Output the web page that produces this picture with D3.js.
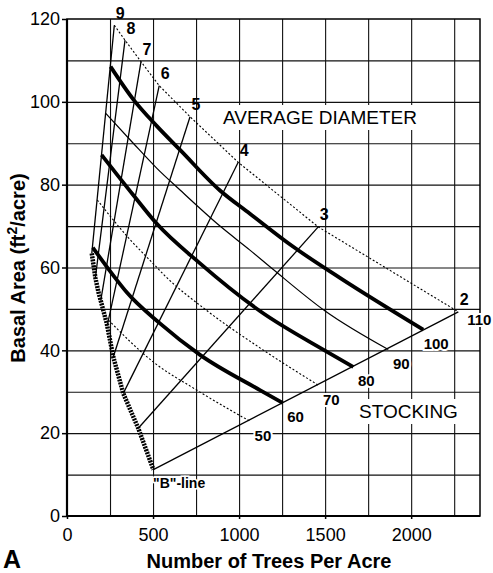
<!DOCTYPE html>
<html>
<head>
<meta charset="utf-8">
<script src="https://cdn.jsdelivr.net/npm/d3@7"></script>
<style>
  body { margin: 0; background: #fff; }
  svg { display: block; font-family: "Liberation Sans", Arial, sans-serif; }
  .grid line { stroke: #111; stroke-width: 1.1; }
  .grid .domain { display: none; }
</style>
</head>
<body>
<div id="container"></div>
<script>
// axis ticks
const xTicks = [0, 500, 1000, 1500, 2000];
const yTicks = [0, 20, 40, 60, 80, 100, 120];
const gridTpa = [250, 500, 750, 1000, 1250, 1500, 1750, 2000, 2250];
const gridBa = [10, 20, 30, 40, 50, 60, 70, 80, 90, 100, 110];

// average diameter lines (inches), from the B-line up to the 110% line
const diameters = [9, 8, 7, 6, 5, 4, 3, 2];
const diamLowTpa = [144, 165, 196, 234, 269, 327, 414, 502];
const diamLowBa = [63.4, 57.5, 52, 46, 38.4, 29.6, 21.2, 11.2];
const diamHighTpa = [275, 337, 430, 536, 715, 995, 1460, 2274];
const diamHighBa = [118.5, 114.9, 109.7, 103.9, 96.4, 85.4, 69.8, 49.3];

// "B"-line
const bLine = [[144, 63.4], [165, 57.5], [183, 54], [196, 52], [231, 46.5], [269, 38.4], [327, 29.6], [414, 21.2], [502, 11.2]];

// stocking curves (% stocking), points as [trees per acre, basal area]
const stockLevels = [110, 100, 90, 80, 70, 60, 50];
const stock110 = [[275, 118.5], [337, 114.9], [430, 109.7], [536, 103.9], [715, 96.4], [995, 85.4], [1460, 69.8], [2274, 49.3]];
const stock100 = [[253, 108.5], [385, 100.6], [521, 94.2], [657, 88.4], [889, 78.6], [1063, 73], [1315, 65], [1586, 57.5], [2070, 45]];
const stock90 = [[226, 97.2], [385, 90], [521, 84], [657, 78.7], [889, 70], [1063, 64.2], [1199, 59.5], [1500, 49.5], [1867, 40.2]];
const stock80 = [[201, 87.2], [385, 77.5], [521, 70.6], [773, 61], [1121, 49.5], [1509, 39.7], [1664, 36]];
const stock70 = [[176, 76.3], [350, 67.5], [511, 60.5], [569, 58], [800, 50], [1121, 40.6], [1460, 31.6]];
const stock60 = [[150, 64.8], [289, 57], [347, 54], [540, 46.5], [773, 38.9], [1121, 30.4], [1253, 27.3]];
const stock50 = [[241, 47.3], [501, 37.2], [754, 30.4], [1024, 23.8], [1063, 22.9]];
const stockCurves = [stock110, stock100, stock90, stock80, stock70, stock60, stock50];

const width = 493;
const height = 573;
const font = '"Liberation Sans", Arial, sans-serif';

const svg = d3.select('#container').append('svg')
  .attr('width', width)
  .attr('height', height);

const x = d3.scaleLinear().domain([0, 2400]).range([67, 480]);
const y = d3.scaleLinear().domain([0, 120]).range([516, 19]);

// grid
svg.append('g')
  .attr('class', 'grid')
  .attr('transform', `translate(0,${y(0)})`)
  .call(d3.axisBottom(x).tickValues(gridTpa).tickSize(-(y(0) - y(120))).tickFormat(''));

svg.append('g')
  .attr('class', 'grid')
  .attr('transform', `translate(${x(0)},0)`)
  .call(d3.axisLeft(y).tickValues(gridBa).tickSize(-(x(2400) - x(0))).tickFormat(''));

// frame
svg.append('rect')
  .attr('x', x(0)).attr('y', y(120))
  .attr('width', x(2400) - x(0)).attr('height', y(0) - y(120))
  .attr('fill', 'none').attr('stroke', '#000').attr('stroke-width', 1.5);
svg.append('path')
  .attr('d', `M${x(0)},${y(120)}V${y(0)}H${x(2400)}`)
  .attr('fill', 'none').attr('stroke', '#000').attr('stroke-width', 2.2);

// axes
const yAxis = svg.append('g')
  .attr('transform', `translate(${x(0)},0)`)
  .call(d3.axisLeft(y).tickValues(yTicks).tickSize(5).tickPadding(2).tickFormat(d3.format('d')))
  .attr('font-size', 18).attr('font-family', font);
yAxis.select('.domain').remove();
yAxis.selectAll('line').attr('stroke-width', 1.5);

const xAxis = svg.append('g')
  .attr('transform', `translate(0,${y(0)})`)
  .call(d3.axisBottom(x).tickValues(xTicks).tickSize(3).tickPadding(9).tickFormat(d3.format('d')))
  .attr('font-size', 18).attr('font-family', font);
xAxis.select('.domain').remove();
xAxis.selectAll('line').attr('stroke-width', 1.5);

// stocking curves
const line = d3.line()
  .x((d) => x(d[0]))
  .y((d) => y(d[1]))
  .curve(d3.curveMonotoneX);
const straight = d3.line()
  .x((d) => x(d[0]))
  .y((d) => y(d[1]));

stockLevels.forEach((s, i) => {
  const dotted = s === 110 || s === 70 || s === 50;
  const thick = s === 100 || s === 80 || s === 60;
  svg.append('path')
    .attr('d', s === 110 ? straight(stockCurves[i]) : line(stockCurves[i]))
    .attr('fill', 'none')
    .attr('stroke', '#000')
    .attr('stroke-width', thick ? 3.8 : dotted ? 1.1 : 1.2)
    .attr('stroke-dasharray', dotted ? '2,2' : null);
});

// diameter lines
diameters.forEach((d, i) => {
  svg.append('line')
    .attr('x1', x(diamLowTpa[i])).attr('y1', y(diamLowBa[i]))
    .attr('x2', x(diamHighTpa[i])).attr('y2', y(diamHighBa[i]))
    .attr('stroke', '#000')
    .attr('stroke-width', 1.3);
});

// B-line
svg.append('path')
  .attr('d', straight(bLine))
  .attr('fill', 'none')
  .attr('stroke', '#000')
  .attr('stroke-width', 4.5)
  .attr('stroke-dasharray', '2,1');

// diameter labels
diameters.forEach((d, i) => {
  svg.append('text')
    .attr('x', x(diamHighTpa[i]) + 6)
    .attr('y', y(diamHighBa[i]) - 12)
    .attr('text-anchor', 'middle')
    .attr('dominant-baseline', 'central')
    .attr('font-size', 16)
    .attr('font-weight', 'bold')
    .text(d);
});

// stocking labels
stockLevels.forEach((s, i) => {
  const end = stockCurves[i][stockCurves[i].length - 1];
  const dx = s === 110 ? 21 : 13;
  const dy = s === 110 ? 8 : 14;
  svg.append('text')
    .attr('x', x(end[0]) + dx)
    .attr('y', y(end[1]) + dy)
    .attr('text-anchor', 'middle')
    .attr('dominant-baseline', 'central')
    .attr('font-size', 15)
    .attr('font-weight', 'bold')
    .attr('stroke', '#fff')
    .attr('stroke-width', 4)
    .attr('paint-order', 'stroke')
    .text(s);
});

// boxed labels
function boxedText(tx, ty, str, size) {
  const g = svg.append('g');
  const t = g.append('text')
    .attr('x', tx).attr('y', ty)
    .attr('font-size', size)
    .text(str);
  const b = t.node().getBBox();
  g.insert('rect', 'text')
    .attr('x', b.x - 2).attr('y', b.y - 2)
    .attr('width', b.width + 4).attr('height', b.height + 4)
    .attr('fill', '#fff');
}
boxedText(223, 124, 'AVERAGE DIAMETER', 19);
boxedText(359, 418, 'STOCKING', 19);

svg.append('text')
  .attr('x', 153).attr('y', 488)
  .attr('font-size', 14)
  .attr('font-weight', 'bold')
  .attr('stroke', '#fff').attr('stroke-width', 3).attr('paint-order', 'stroke')
  .text('"B"-line');

// axis titles
svg.append('text')
  .attr('x', 269).attr('y', 568)
  .attr('text-anchor', 'middle')
  .attr('font-size', 20)
  .attr('font-weight', 'bold')
  .text('Number of Trees Per Acre');

const yTitle = svg.append('text')
  .attr('transform', 'translate(25,268) rotate(-90)')
  .attr('text-anchor', 'middle')
  .attr('font-size', 20)
  .attr('font-weight', 'bold');
yTitle.append('tspan').text('Basal Area (ft');
yTitle.append('tspan').attr('font-size', 14).attr('dy', -8).text('2');
yTitle.append('tspan').attr('dy', 8).text('/acre)');

svg.append('text')
  .attr('x', 3).attr('y', 568)
  .attr('font-size', 25)
  .attr('font-weight', 'bold')
  .text('A');
</script>
</body>
</html>
